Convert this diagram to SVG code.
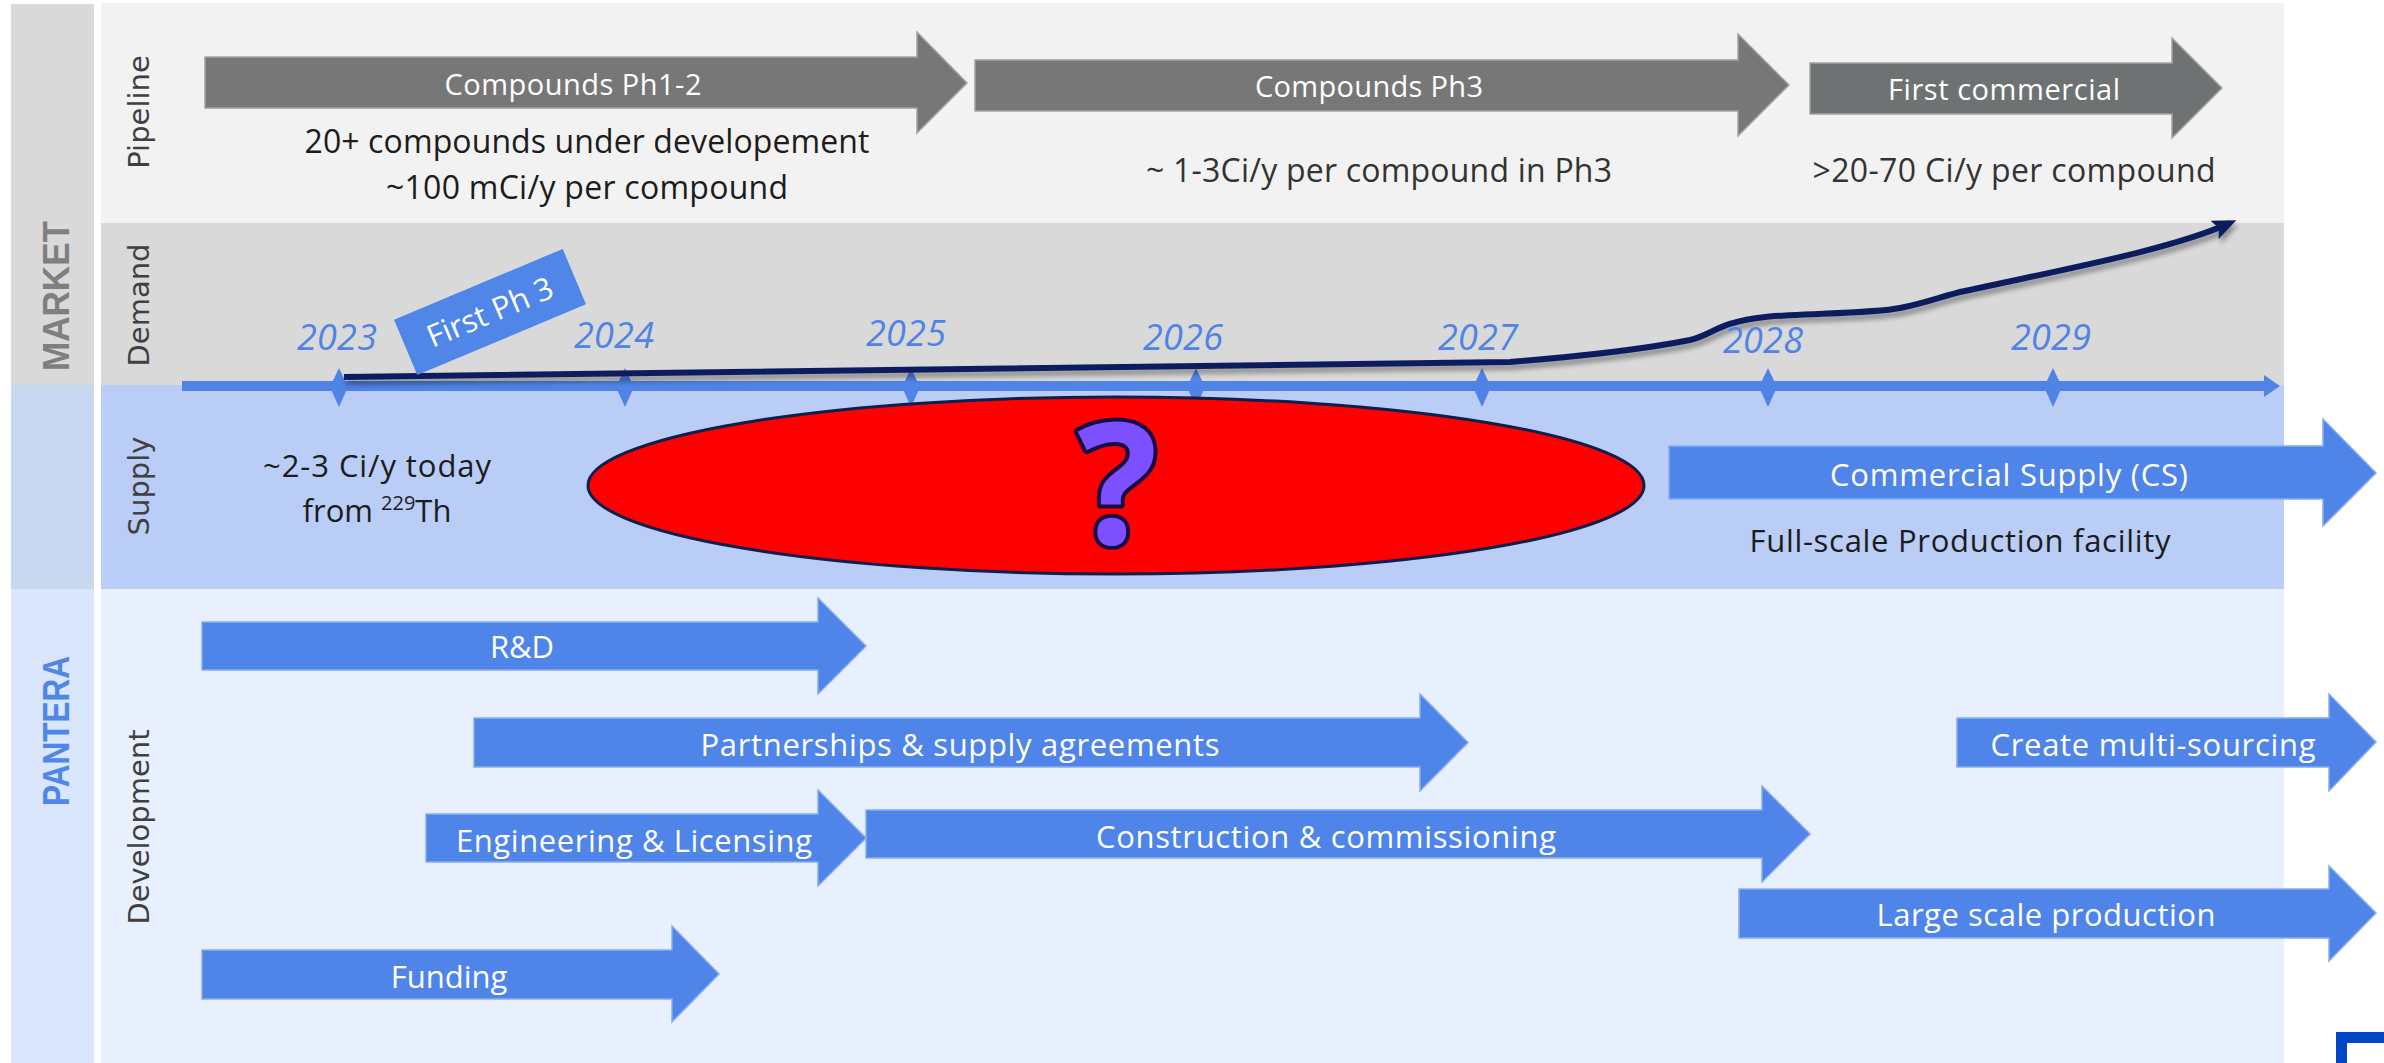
<svg xmlns="http://www.w3.org/2000/svg" width="2384" height="1063" viewBox="0 0 2384 1063">
  <style>
    .t { font-family: "Open Sans", "Noto Sans", sans-serif; }
    .w { fill: #ffffff; }
    .dk { fill: #1c1c1c; }
    .md { fill: #333333; }
    .yr { font-family: "Open Sans", "Noto Sans", sans-serif; font-style: italic; font-size: 36px; fill: #5083e6; text-anchor: middle; }
    .row { font-family: "DejaVu Sans", sans-serif; font-size: 29px; fill: #404040; text-anchor: middle; }
    .sec { font-family: "Liberation Sans", Arial, sans-serif; font-weight: bold; font-size: 36px; text-anchor: middle; }
    .gray-arrow { fill: #777777; stroke: #a3a3a3; stroke-width: 1.5; }
    .gray-arrow2 { fill: #6e7273; stroke: #a0a3a4; stroke-width: 1.5; }
    .blue-arrow { fill: #4f84e9; stroke: #86aaf0; stroke-width: 1.5; }
  </style>
  <defs>
    <marker id="curveHead" markerUnits="userSpaceOnUse" markerWidth="26" markerHeight="22" refX="17" refY="10" orient="auto">
      <path d="M0,0 L24,10 L0,20 L5,10 Z" fill="#0b1f5e"/>
    </marker>
    <filter id="dropShadow" x="-5%" y="-50%" width="110%" height="200%">
      <feDropShadow dx="2" dy="5" stdDeviation="2.5" flood-color="#000000" flood-opacity="0.35"/>
    </filter>
    <polygon id="tick" points="0,368 9,387 0,407 -9,387" fill="#5083e6"/>
  </defs>

  <!-- section column and row bands -->
  <g id="bands">
    <rect x="11" y="4" width="83" height="381" fill="#d9d9d9"/>
    <rect x="11" y="385" width="83" height="204" fill="#c9d8f1"/>
    <rect x="11" y="589" width="83" height="474" fill="#d9e6fc"/>
    <rect x="101" y="3" width="2183" height="220" fill="#f2f2f2"/>
    <rect x="101" y="223" width="2183" height="162" fill="#d9d9d9"/>
    <rect x="101" y="385" width="2183" height="204" fill="#b9cdf6"/>
    <rect x="101" y="589" width="2183" height="474" fill="#e9f0fd"/>
  </g>

  <!-- section and row titles -->
  <g id="section-market">
    <text class="sec" transform="translate(69,296) rotate(-90)" fill="#7f7f7f" textLength="150" lengthAdjust="spacingAndGlyphs">MARKET</text>
  </g>
  <g id="section-pantera">
    <text class="sec" transform="translate(69,731) rotate(-90)" fill="#4f86e8" textLength="150" lengthAdjust="spacingAndGlyphs">PANTERA</text>
  </g>
  <g id="row-pipeline"><text class="row" transform="translate(149,112) rotate(-90)">Pipeline</text></g>
  <g id="row-demand"><text class="row" transform="translate(149,305) rotate(-90)">Demand</text></g>
  <g id="row-supply"><text class="row" transform="translate(149,486) rotate(-90)">Supply</text></g>
  <g id="row-development"><text class="row" transform="translate(149,827) rotate(-90)">Development</text></g>

  <!-- pipeline phases -->
  <g id="compounds-ph12">
    <path class="gray-arrow" d="M205,57 L917,57 L917,32 L967,83 L917,133 L917,108 L205,108 Z"/>
    <text class="t w" x="573" y="95" font-size="29" text-anchor="middle" textLength="257">Compounds Ph1-2</text>
  </g>
  <g id="compounds-ph3">
    <path class="gray-arrow" d="M975,60 L1738,60 L1738,34 L1789,85 L1738,136 L1738,111 L975,111 Z"/>
    <text class="t w" x="1369" y="97" font-size="29" text-anchor="middle" textLength="228">Compounds Ph3</text>
  </g>
  <g id="first-commercial">
    <path class="gray-arrow2" d="M1810,63 L2172,63 L2172,38 L2222,88 L2172,138 L2172,114 L1810,114 Z"/>
    <text class="t w" x="2004" y="100" font-size="29" text-anchor="middle" textLength="232">First commercial</text>
  </g>
  <g id="pipeline-notes">
    <text class="t dk" x="587" y="153" font-size="32" text-anchor="middle" textLength="565">20+ compounds under developement</text>
    <text class="t dk" x="587" y="199" font-size="32" text-anchor="middle" textLength="402">~100 mCi/y per compound</text>
    <text class="t md" x="1379" y="182" font-size="32" text-anchor="middle" textLength="466">~ 1-3Ci/y per compound in Ph3</text>
    <text class="t md" x="2014" y="182" font-size="32" text-anchor="middle" textLength="403">&gt;20-70 Ci/y per compound</text>
  </g>

  <!-- time axis and demand curve -->
  <g id="connectors">
    <line x1="182" y1="386" x2="2268" y2="386" stroke="#5083e6" stroke-width="10"/>
    <polygon points="2264,375 2280,386 2264,397" fill="#5083e6"/>
    <use href="#tick" x="339"/>
    <use href="#tick" x="625"/>
    <use href="#tick" x="911"/>
    <use href="#tick" x="1196"/>
    <use href="#tick" x="1482"/>
    <use href="#tick" x="1768"/>
    <use href="#tick" x="2053"/>
    <path d="M344,377 L1510,362 C1560,358 1640,350 1690,340 C1712,335 1718,322 1765,317 C1800,313 1870,314 1900,308 C1930,302 1945,295 1965,291 C2060,270 2170,250 2230,223" fill="none" stroke="#0b1f5e" stroke-width="6" stroke-linejoin="round" marker-end="url(#curveHead)" filter="url(#dropShadow)"/>
  </g>

  <g id="years">
    <text class="yr" x="337" y="350" textLength="80">2023</text>
    <text class="yr" x="614" y="348" textLength="80">2024</text>
    <text class="yr" x="906" y="346" textLength="80">2025</text>
    <text class="yr" x="1183" y="350" textLength="80">2026</text>
    <text class="yr" x="1478" y="350" textLength="80">2027</text>
    <text class="yr" x="1763" y="353" textLength="80">2028</text>
    <text class="yr" x="2051" y="350" textLength="80">2029</text>
  </g>

  <g id="first-ph3" transform="translate(490,312) rotate(-22.8)">
    <rect x="-91.5" y="-30" width="183" height="60" fill="#4f86e8"/>
    <text class="t w" x="0" y="11" font-size="31" text-anchor="middle">First Ph 3</text>
  </g>

  <!-- supply row -->
  <g id="supply-today">
    <text class="t dk" x="377" y="477" font-size="31" text-anchor="middle" textLength="228">~2-3 Ci/y today</text>
    <text class="t dk" x="377" y="522" font-size="31" text-anchor="middle">from <tspan font-size="20" dy="-12">229</tspan><tspan dy="12">Th</tspan></text>
  </g>
  <g id="supply-gap">
    <ellipse cx="1116" cy="485.5" rx="528" ry="88.5" fill="#ff0000" stroke="#0e1f4d" stroke-width="3"/>
    <text x="1117" y="544" font-family="Noto Sans, Open Sans, sans-serif" font-weight="bold" font-size="168" text-anchor="middle" fill="#7c4fff" stroke="#1b0b45" stroke-width="8" stroke-linejoin="round" paint-order="stroke">?</text>
  </g>
  <g id="commercial-supply">
    <path class="blue-arrow" d="M1669,446 L2323,446 L2323,419 L2376,473 L2323,526 L2323,499 L1669,499 Z"/>
    <text class="t w" x="2009" y="486" font-size="31" text-anchor="middle" textLength="358">Commercial Supply (CS)</text>
    <text class="t dk" x="1960" y="552" font-size="31" text-anchor="middle" textLength="421">Full-scale Production facility</text>
  </g>

  <!-- development activities -->
  <g id="rnd">
    <path class="blue-arrow" d="M202,622 L818,622 L818,598 L866,646 L818,694 L818,670 L202,670 Z"/>
    <text class="t w" x="522" y="658" font-size="31" text-anchor="middle">R&amp;D</text>
  </g>
  <g id="partnerships">
    <path class="blue-arrow" d="M474,718 L1420,718 L1420,694 L1468,742.5 L1420,791 L1420,767 L474,767 Z"/>
    <text class="t w" x="960" y="756" font-size="31" text-anchor="middle" textLength="519">Partnerships &amp; supply agreements</text>
  </g>
  <g id="construction">
    <path class="blue-arrow" d="M866,810 L1762,810 L1762,786 L1810,834 L1762,882 L1762,858 L866,858 Z"/>
    <text class="t w" x="1326" y="848" font-size="31" text-anchor="middle" textLength="460">Construction &amp; commissioning</text>
  </g>
  <g id="engineering">
    <path class="blue-arrow" d="M426,814 L818,814 L818,790 L866,838 L818,886 L818,862 L426,862 Z"/>
    <text class="t w" x="634" y="852" font-size="31" text-anchor="middle" textLength="356">Engineering &amp; Licensing</text>
  </g>
  <g id="funding">
    <path class="blue-arrow" d="M202,950 L672,950 L672,926 L719,974 L672,1022 L672,999 L202,999 Z"/>
    <text class="t w" x="449" y="988" font-size="31" text-anchor="middle">Funding</text>
  </g>
  <g id="multi-sourcing">
    <path class="blue-arrow" d="M1957,718 L2329,718 L2329,694 L2376,742 L2329,791 L2329,767 L1957,767 Z"/>
    <text class="t w" x="2153" y="756" font-size="31" text-anchor="middle" textLength="325">Create multi-sourcing</text>
  </g>
  <g id="large-scale">
    <path class="blue-arrow" d="M1739,889 L2329,889 L2329,866 L2376,913 L2329,961 L2329,938 L1739,938 Z"/>
    <text class="t w" x="2046" y="926" font-size="31" text-anchor="middle" textLength="339">Large scale production</text>
  </g>

  <!-- corner mark -->
  <g id="corner-mark">
    <path d="M2336,1063 L2336,1032 L2384,1032 L2384,1043 L2347,1043 L2347,1063 Z" fill="#0047c6"/>
  </g>
</svg>
